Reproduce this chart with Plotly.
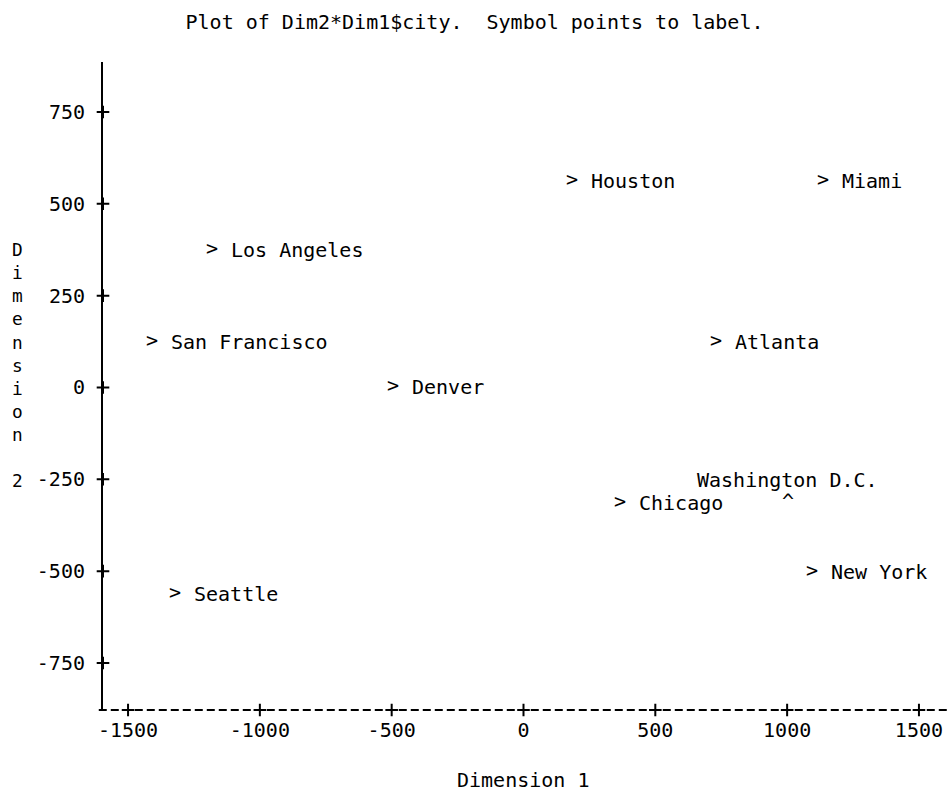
import plotly.graph_objects as go

# ---- data ----
cities = ["Houston", "Miami", "Los Angeles", "San Francisco", "Atlanta",
          "Denver", "Washington D.C.", "Chicago", "New York", "Seattle"]
dim1 = [184, 1136, -1181, -1409, 730, -495, 1003, 366, 1094, -1322]
dim2 = [562, 562, 374, 124, 124, 0, -314, -314, -502, -562]
symbols = [">", ">", ">", ">", ">", ">", "^", ">", ">", ">"]

x_tick_vals = [-1500, -1000, -500, 0, 500, 1000, 1500]
x_tick_text = ["-1500", "-1000", "-500", "0", "500", "1000", "1500"]
y_tick_vals = [750, 500, 250, 0, -250, -500, -750]
y_tick_text = ["750", "500", "250", "0", "-250", "-500", "-750"]

title_text = "Plot of Dim2*Dim1$city. \u00a0Symbol points to label."
x_title = "Dimension 1"
y_title = "Dimension 2"

# ---- style ----
FONT = "DejaVu Sans Mono"
FS = 20
X_RANGE = [-1595, 1614]
Y_RANGE = [-878, 886]
W, H = 949, 794

fig = go.Figure()

# symbols at the data points
fig.add_trace(go.Scatter(
    x=dim1, y=dim2, mode="text", text=symbols,
    textposition="middle center",
    textfont=dict(family=FONT, size=FS, color="black"),
    hoverinfo="skip", showlegend=False, cliponaxis=False))

# "+" tick marks on the axes
fig.add_trace(go.Scatter(
    x=x_tick_vals, y=[Y_RANGE[0]] * len(x_tick_vals), mode="markers",
    marker=dict(symbol="cross-thin-open", size=9,
                line=dict(width=2, color="black"), color="black"),
    hoverinfo="skip", showlegend=False, cliponaxis=False))
fig.add_trace(go.Scatter(
    x=[X_RANGE[0]] * len(y_tick_vals), y=y_tick_vals, mode="markers",
    marker=dict(symbol="cross-thin-open", size=9,
                line=dict(width=2, color="black"), color="black"),
    hoverinfo="skip", showlegend=False, cliponaxis=False))

annotations = []
for name, x, y, s in zip(cities, dim1, dim2, symbols):
    if s == ">":
        annotations.append(dict(
            x=x, y=y, xref="x", yref="y", text=name, showarrow=False,
            xanchor="left", yanchor="middle", xshift=17,
            font=dict(family=FONT, size=FS, color="black")))
    else:
        annotations.append(dict(
            x=x, y=y, xref="x", yref="y", text=name, showarrow=False,
            xanchor="center", yanchor="middle", yshift=23,
            font=dict(family=FONT, size=FS, color="black")))

# vertical stacked y title
annotations.append(dict(
    x=-0.1005, y=0.533, xref="paper", yref="paper",
    text="<br>".join(c if c != " " else "\u00a0" for c in y_title),
    showarrow=False, xanchor="center", yanchor="middle", align="center",
    font=dict(family=FONT, size=17.8, color="black")))
# x title
annotations.append(dict(
    x=0.496, y=-70 / 648, xref="paper", yref="paper", text=x_title,
    showarrow=False, xanchor="center", yanchor="middle",
    font=dict(family=FONT, size=FS, color="black")))

fig.update_layout(
    width=W, height=H,
    margin=dict(l=103, r=0, t=62, b=84),
    paper_bgcolor="white", plot_bgcolor="white",
    title=dict(text=title_text, x=0.5, xanchor="center",
               y=1 - 22 / H, yanchor="middle",
               font=dict(family=FONT, size=FS, color="black")),
    font=dict(family=FONT, size=FS, color="black"),
    annotations=annotations,
    shapes=[dict(type="line", xref="paper", yref="paper",
                 x0=-0.005, x1=1, y0=0, y1=0,
                 line=dict(color="black", width=2, dash="8px,4px"))],
    xaxis=dict(range=X_RANGE, showgrid=False, zeroline=False, showline=False,
               tickmode="array", tickvals=x_tick_vals, ticktext=x_tick_text,
               ticks="", ticklabelstandoff=6,
               tickfont=dict(family=FONT, size=FS, color="black")),
    yaxis=dict(range=Y_RANGE, showgrid=False, zeroline=False, showline=True,
               linecolor="black", linewidth=2,
               tickmode="array", tickvals=y_tick_vals, ticktext=y_tick_text,
               ticks="", ticklabelstandoff=12,
               tickfont=dict(family=FONT, size=FS, color="black")),
)

fig.write_html(
    "out.html",
    config={"displayModeBar": False},
    post_script="document.body.style.margin='0';"
                "document.body.style.overflow='hidden';")
